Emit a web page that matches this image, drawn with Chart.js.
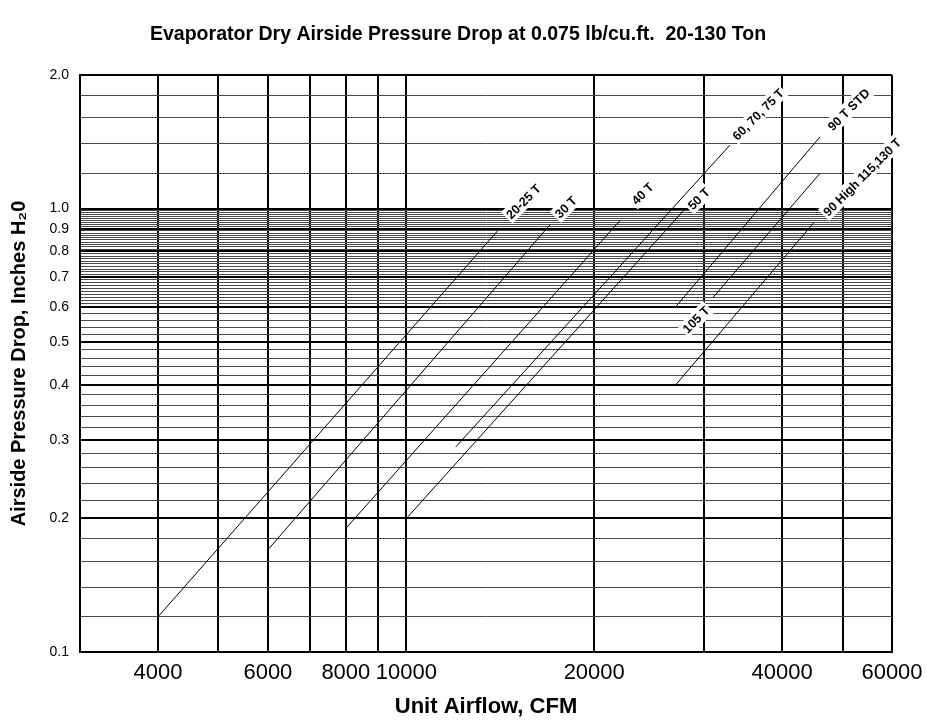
<!DOCTYPE html>
<html>
<head>
<meta charset="utf-8">
<title>Evaporator Dry Airside Pressure Drop</title>
<script src="https://cdn.jsdelivr.net/npm/chart.js@4.4.0/dist/chart.umd.min.js"></script>
<style>
  html, body { margin: 0; padding: 0; background: #fff; }
  canvas { display: block; }
</style>
</head>
<body>
<canvas id="dropChart" width="927" height="725"></canvas>
<script>
// coil lines, one straight run (log-log) per model group
const SERIES_NAMES = ['20-25 T', '30 T', '40 T', '50 T', '60, 70, 75 T', '90 T STD', '105 T', '90 High 115,130 T'];
const AIRFLOW_START = [4000, 6000, 8000, 10000, 12000, 27000, 31000, 27000];
const DROP_START = [0.12, 0.17, 0.19, 0.20, 0.29, 0.60, 0.63, 0.40];
const AIRFLOW_END = [14000, 17000, 22000, 28000, 33000, 46000, 46000, 45000];
const DROP_END = [0.89, 0.92, 0.94, 1.00, 1.39, 1.45, 1.20, 0.93];

// where each line's tag sits
const LABEL_AIRFLOW = [15400, 18000, 23900, 29400, 36600, 51100, 29100, 53700];
const LABEL_DROP = [1.038, 1.008, 1.081, 1.053, 1.632, 1.672, 0.562, 1.178];

// axis grid / ticks
const X_GRID = [3000, 4000, 5000, 6000, 7000, 8000, 9000, 10000, 20000, 30000, 40000, 50000, 60000];
const X_LABELED = [4000, 6000, 8000, 10000, 20000, 40000, 60000];

const Y_MAJOR = [0.1, 0.2, 0.3, 0.4, 0.5, 0.6, 0.7, 0.8, 0.9, 1.0, 2.0];
const Y_MAJOR_LABELS = ['0.1', '0.2', '0.3', '0.4', '0.5', '0.6', '0.7', '0.8', '0.9', '1.0', '2.0'];
const Y_MINOR = [
  0.12, 0.14, 0.16, 0.18,
  0.22, 0.24, 0.26, 0.28,
  0.32, 0.34, 0.36, 0.38,
  0.42, 0.44, 0.46, 0.48,
  0.52, 0.54, 0.56, 0.58,
  0.61, 0.62, 0.63, 0.64, 0.65, 0.66, 0.67, 0.68, 0.69,
  0.71, 0.72, 0.73, 0.74, 0.75, 0.76, 0.77, 0.78, 0.79,
  0.81, 0.82, 0.83, 0.84, 0.85, 0.86, 0.87, 0.88, 0.89,
  0.91, 0.92, 0.93, 0.94, 0.95, 0.96, 0.97, 0.98, 0.99,
  1.2, 1.4, 1.6, 1.8
];
const Y_GRID = Y_MAJOR.concat(Y_MINOR).sort((a, b) => a - b);

const TITLE = 'Evaporator Dry Airside Pressure Drop at 0.075 lb/cu.ft.  20-130 Ton';
const FONT = '"Liberation Sans", Arial, Helvetica, sans-serif';

const datasets = SERIES_NAMES.map((name, i) => ({
  label: name,
  data: [
    { x: AIRFLOW_START[i], y: DROP_START[i] },
    { x: AIRFLOW_END[i], y: DROP_END[i] }
  ],
  showLine: true,
  borderColor: '#000',
  borderWidth: 1,
  pointRadius: 0,
  pointHoverRadius: 0
}));

// rotated tags with a white box behind them
const lineTags = {
  id: 'lineTags',
  afterDatasetsDraw(chart) {
    const { ctx, scales: { x, y } } = chart;
    ctx.save();
    ctx.font = 'bold 12.5px ' + FONT;
    ctx.textAlign = 'center';
    ctx.textBaseline = 'middle';
    SERIES_NAMES.forEach((name, i) => {
      const px = x.getPixelForValue(LABEL_AIRFLOW[i]);
      const py = y.getPixelForValue(LABEL_DROP[i]);
      const w = ctx.measureText(name).width;
      ctx.save();
      ctx.translate(px, py);
      ctx.rotate(-Math.PI / 4);
      ctx.fillStyle = '#fff';
      ctx.fillRect(-w / 2 - 2, -8, w + 4, 16);
      ctx.fillStyle = '#000';
      ctx.fillText(name, 0, 1);
      ctx.restore();
    });
    ctx.restore();
  }
};

// heading, squeezed a little sideways
const chartTitle = {
  id: 'chartTitle',
  afterDraw(chart) {
    const ctx = chart.ctx;
    ctx.save();
    ctx.font = 'bold 21px ' + FONT;
    ctx.fillStyle = '#000';
    ctx.textAlign = 'center';
    ctx.textBaseline = 'middle';
    ctx.translate(458, 34);
    ctx.scale(0.93, 1);
    ctx.fillText(TITLE, 0, 0);
    ctx.restore();
  }
};

new Chart(document.getElementById('dropChart'), {
  type: 'scatter',
  data: { datasets },
  plugins: [lineTags, chartTitle],
  options: {
    responsive: false,
    animation: false,
    events: [],
    layout: { padding: { top: 75, right: 35, bottom: 0, left: 0 } },
    plugins: {
      legend: { display: false },
      tooltip: { enabled: false }
    },
    scales: {
      x: {
        type: 'logarithmic',
        min: 3000,
        max: 60000,
        afterBuildTicks: (scale) => { scale.ticks = X_GRID.map(v => ({ value: v })); },
        afterFit: (scale) => {
          scale.height = 73;
          // let the last label hang into the right margin
          scale.paddingLeft = 0;
          scale.paddingRight = 0;
        },
        ticks: {
          autoSkip: false,
          maxRotation: 0,
          padding: 8,
          color: '#000',
          font: { family: FONT, size: 22 },
          callback: (v) => X_LABELED.includes(v) ? String(v) : ''
        },
        grid: {
          color: '#000',
          lineWidth: 2,
          drawTicks: false
        },
        border: { display: true, color: '#000', width: 2 },
        title: {
          display: true,
          text: 'Unit Airflow, CFM',
          color: '#000',
          font: { family: FONT, size: 22, weight: 'bold' },
          padding: { top: 0, bottom: 5 }
        }
      },
      y: {
        type: 'logarithmic',
        min: 0.1,
        max: 2.0,
        afterBuildTicks: (scale) => { scale.ticks = Y_GRID.map(v => ({ value: v })); },
        afterFit: (scale) => { scale.width = 80; },
        ticks: {
          autoSkip: false,
          padding: 11,
          color: '#000',
          font: { family: FONT, size: 14 },
          callback: (v) => {
            const k = Y_MAJOR.indexOf(v);
            return k >= 0 ? Y_MAJOR_LABELS[k] : '';
          }
        },
        grid: {
          color: (c) => Y_MAJOR.includes(c.tick && c.tick.value) ? '#000' : '#4a4a4a',
          lineWidth: (c) => Y_MAJOR.includes(c.tick && c.tick.value) ? 2 : 1,
          drawTicks: false
        },
        border: { display: true, color: '#000', width: 2 },
        title: {
          display: true,
          text: 'Airside Pressure Drop, Inches H\u20820',
          color: '#000',
          font: { family: FONT, size: 20, weight: 'bold' },
          padding: { top: 7, bottom: 0 }
        }
      }
    }
  }
});
</script>
</body>
</html>
